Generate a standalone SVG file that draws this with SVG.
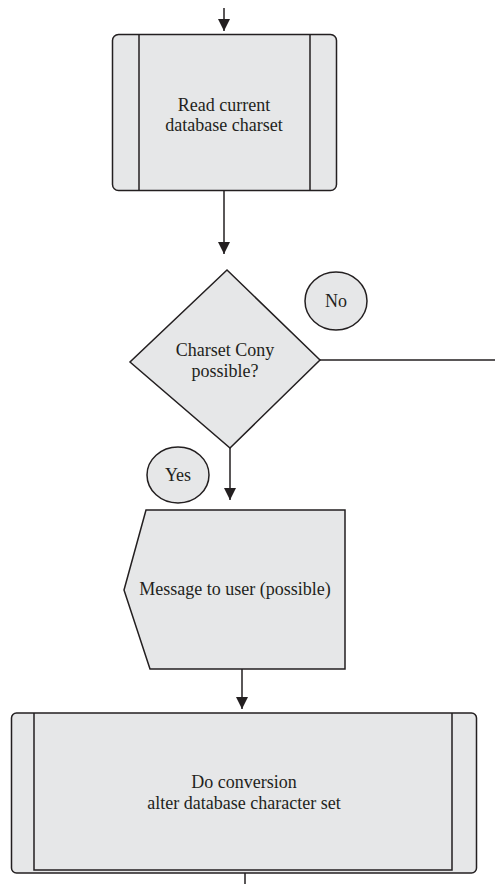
<svg xmlns="http://www.w3.org/2000/svg" width="495" height="884" viewBox="0 0 495 884">
<style>
.shape{fill:#e6e7e8;stroke:#231f20;stroke-width:1.5}
.ln{fill:none;stroke:#231f20;stroke-width:1.5}
.conn{fill:none;stroke:#231f20;stroke-width:1.5}
text{font-family:"Liberation Serif","Times New Roman",serif;font-size:18px;fill:#231f20;text-anchor:middle}
</style>
<defs>
<marker id="arr" markerWidth="12" markerHeight="12" refX="12" refY="6" orient="auto" markerUnits="userSpaceOnUse">
<path d="M0,0 L12,6 L0,12 Z" fill="#231f20"/>
</marker>
</defs>
<rect width="495" height="884" fill="#ffffff"/>
<g id="connectors">
<line class="conn" x1="224" y1="8" x2="224" y2="31" marker-end="url(#arr)"/>
<line class="conn" x1="224" y1="190" x2="224" y2="254" marker-end="url(#arr)"/>
<line class="conn" x1="320" y1="360" x2="495" y2="360"/>
<line class="conn" x1="230" y1="448" x2="230" y2="500" marker-end="url(#arr)"/>
<line class="conn" x1="242" y1="669" x2="242" y2="709" marker-end="url(#arr)"/>
<line class="conn" x1="245" y1="873" x2="245" y2="884"/>
</g>
<g id="read-charset">
<rect class="shape" x="112.5" y="34.5" width="224" height="156" rx="6"/>
<line class="ln" x1="139" y1="34.5" x2="139" y2="190.5"/>
<line class="ln" x1="310" y1="34.5" x2="310" y2="190.5"/>
<text x="224" y="111">Read current</text>
<text x="224" y="131">database charset</text>
</g>
<g id="decision">
<polygon class="shape" points="227,270 320,360 230,448 130,362"/>
<text x="225" y="356">Charset Cony</text>
<text x="225" y="377">possible?</text>
</g>
<g id="no-label">
<ellipse class="shape" cx="336" cy="301" rx="31" ry="29"/>
<text x="336" y="307">No</text>
</g>
<g id="yes-label">
<ellipse class="shape" cx="178" cy="475" rx="31" ry="28"/>
<text x="178" y="481">Yes</text>
</g>
<g id="message">
<polygon class="shape" points="146,510 345,510 345,669 150,669 124,590"/>
<text x="235" y="595">Message to user (possible)</text>
</g>
<g id="conversion">
<rect class="shape" x="11.5" y="713" width="465" height="160" rx="5"/>
<polyline class="ln" points="34,713 34,870 452,870 452,713"/>
<text x="244" y="788">Do conversion</text>
<text x="244" y="809">alter database character set</text>
</g>
</svg>
